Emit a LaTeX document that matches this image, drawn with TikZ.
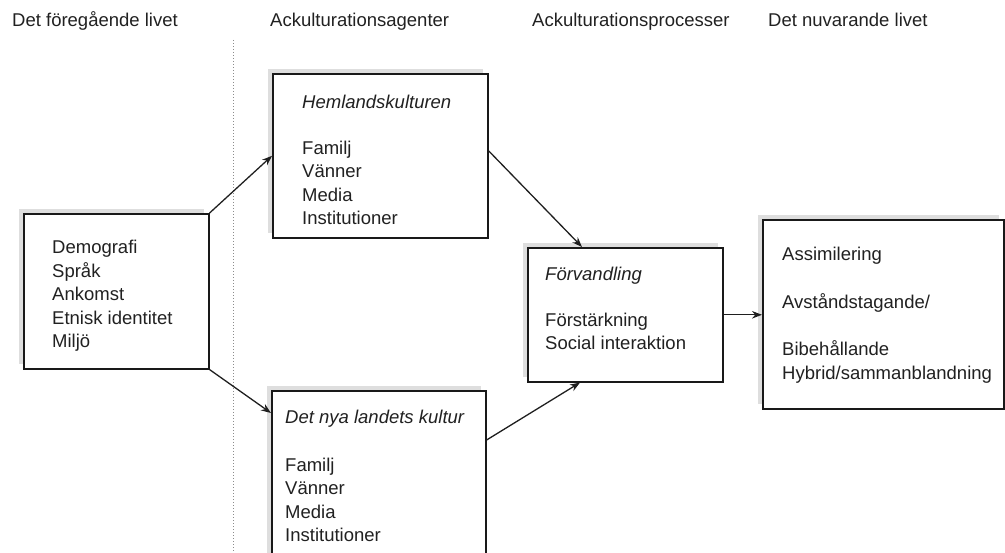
\documentclass[tikz,border=0pt]{standalone}
\usepackage{fontspec}
\setmainfont{Liberation Sans}
\usetikzlibrary{arrows.meta,shadows}

\begin{document}
\begin{tikzpicture}[x=1pt, y=-1pt,
		box/.style={draw=black!90, line width=1.6pt, fill=white, anchor=north west, inner sep=0pt,
			drop shadow={shadow xshift=-5pt, shadow yshift=5pt, fill=black!13, opacity=1}},
		txt/.style={anchor=north west, inner sep=0pt, align=left, text=black!87, font=\fontsize{18.5}{23.5}\selectfont},
		head/.style={anchor=base west, inner sep=0pt, text=black!87, font=\fontsize{18.5}{23.5}\selectfont},
		pil/.style={line width=1.3pt, draw=black!88, -{Stealth[length=10pt, width=7.5pt]}}]
			%%%%% START %%%%%
			\path[use as bounding box] (0, 0) rectangle (1005, 553);
			\clip (0, 0) rectangle (1005, 553);
			
			\node[head] (h1) at (12, 27) {Det föregående livet};
			\node[head] (h2) at (270, 27) {Ackulturationsagenter};
			\node[head] (h3) at (532, 27) {Ackulturationsprocesser};
			\node[head] (h4) at (768, 27) {Det nuvarande livet};
			
			\draw[dotted, black!45, line width=1pt] (233, 40) -- (233, 553);
			
			\node[box, minimum width=185pt, minimum height=155pt] (prev) at (23, 213) {};
			\node[txt] (prevtxt) at ([shift={(29pt, -27pt)}]prev.north west)
				{Demografi\\Språk\\Ankomst\\Etnisk identitet\\Miljö};
			
			\node[box, minimum width=215pt, minimum height=164pt] (hem) at (272, 73) {};
			\node[txt] (hemtxt) at ([shift={(30pt, -22pt)}]hem.north west)
				{{\itshape Hemlandskulturen}\\[22pt]Familj\\Vänner\\Media\\Institutioner};
			
			\node[box, minimum width=214pt, minimum height=175pt] (nya) at (271, 390) {};
			\node[txt] (nyatxt) at ([shift={(14pt, -20pt)}]nya.north west)
				{{\itshape Det nya landets kultur}\\[24pt]Familj\\Vänner\\Media\\Institutioner};
			
			\node[box, minimum width=195pt, minimum height=134pt] (forv) at (527, 247) {};
			\node[txt] (forvtxt) at ([shift={(18pt, -20pt)}]forv.north west)
				{{\itshape Förvandling}\\[22pt]Förstärkning\\Social interaktion};
			
			\node[box, minimum width=241pt, minimum height=189pt] (now) at (762, 219) {};
			\node[txt] (nowtxt) at ([shift={(20pt, -28pt)}]now.north west)
				{Assimilering\\[24pt]Avståndstagande/\\[24pt]Bibehållande\\Hybrid/sammanblandning};
			
			\draw[pil] (prev.north east) -- (hem.west);
			\draw[pil] (prev.south east) -- ([yshift=-23pt]nya.north west);
			\draw[pil] ([yshift=5pt]hem.east) -- ([xshift=55pt]forv.north west);
			\draw[pil] ([yshift=-50pt]nya.north east) -- ([xshift=53pt]forv.south west);
			\draw[pil] (forv.east) -- (forv.east -| now.west);
			
			%%%%% END %%%%%
\end{tikzpicture}
\end{document}
